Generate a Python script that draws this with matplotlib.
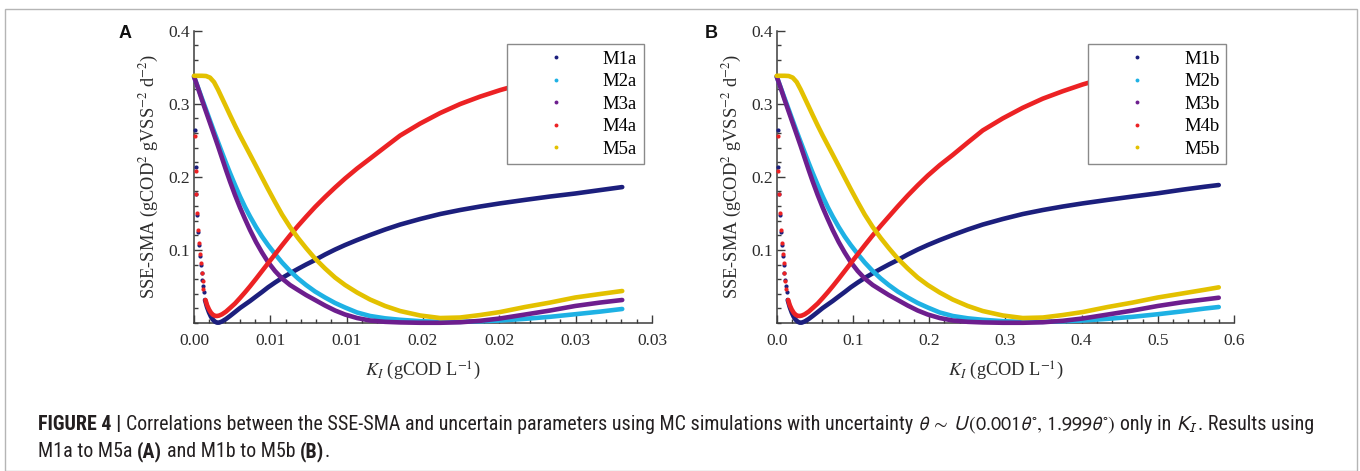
import matplotlib
matplotlib.use("Agg")
import matplotlib.pyplot as plt
from matplotlib.lines import Line2D
from matplotlib.patches import Rectangle
from matplotlib.ticker import MultipleLocator, FixedLocator, FixedFormatter
from matplotlib.transforms import IdentityTransform
from matplotlib import font_manager as fm

# ---------------- data ----------------
series_A = ["M1a", "M2a", "M3a", "M4a", "M5a"]
series_B = ["M1b", "M2b", "M3b", "M4b", "M5b"]
colors = ["#1c1f7d", "#1eb1e4", "#6d1e8e", "#ec2224", "#e3c100"]

xticks_A = [0.0, 0.005, 0.01, 0.015, 0.02, 0.025, 0.03]
xticklabels_A = ["0.00", "0.01", "0.01", "0.02", "0.02", "0.03", "0.03"]
xticks_B = [0.0, 0.1, 0.2, 0.3, 0.4, 0.5, 0.6]
xticklabels_B = ["0.0", "0.1", "0.2", "0.3", "0.4", "0.5", "0.6"]
yticks = [0.1, 0.2, 0.3, 0.4]
yticklabels = ["0.1", "0.2", "0.3", "0.4"]

# ---------------- Panel A ----------------
# sparse points close to K_I = 0 (M1a and M4a)
KI_A_M1_dots = [0.00006, 0.0001, 0.00016, 0.00022, 0.00028, 0.00034, 0.0004, 0.00045, 0.0005, 0.00055, 0.0006, 0.00066]
SSE_A_M1_dots = [0.264, 0.214, 0.176, 0.148, 0.125, 0.107, 0.092, 0.080, 0.069, 0.059, 0.050, 0.042]
KI_A_M4_dots = [0.00006, 0.0001, 0.00016, 0.00022, 0.00028, 0.00034, 0.0004, 0.00045, 0.0005, 0.00056, 0.00062]
SSE_A_M4_dots = [0.256, 0.208, 0.177, 0.150, 0.127, 0.109, 0.095, 0.082, 0.069, 0.057, 0.046]

# K_I positions at which M2a, M3a, M5a were read
KI_A = [0.0, 0.000262, 0.000524, 0.000786, 0.001049, 0.001311, 0.001573, 0.001835, 0.002097, 0.002359,
        0.002687, 0.003014, 0.003342, 0.00367, 0.004063, 0.004456, 0.004849, 0.005308, 0.005767, 0.006291,
        0.006815, 0.007339, 0.007929, 0.008584, 0.00924, 0.009895, 0.010682, 0.011534, 0.012516, 0.0135,
        0.01481, 0.01612, 0.01743, 0.01874, 0.02005, 0.02169, 0.02333, 0.02497, 0.02661, 0.02805]

SSE_A_M2 = [0.3372, 0.3222, 0.3071, 0.2921, 0.2770, 0.2620, 0.2476, 0.2332, 0.2189, 0.2052,
            0.1888, 0.1731, 0.1587, 0.1457, 0.1313, 0.1183, 0.1067, 0.0944, 0.0828, 0.0711,
            0.0609, 0.0520, 0.0431, 0.0349, 0.0274, 0.0212, 0.0144, 0.0096, 0.0064, 0.0044,
            0.0025, 0.0016, 0.0016, 0.0023, 0.0034, 0.0057, 0.0085, 0.0120, 0.0156, 0.0192]

SSE_A_M3 = [0.3372, 0.3215, 0.3051, 0.2893, 0.2736, 0.2579, 0.2421, 0.2257, 0.2093, 0.1936,
            0.1751, 0.1580, 0.1423, 0.1272, 0.1108, 0.0964, 0.0834, 0.0711, 0.0609, 0.0520,
            0.0451, 0.0383, 0.0315, 0.0239, 0.0171, 0.0116, 0.0068, 0.0034, 0.0016, 0.0008,
            0.0003, 0.0003, 0.0010, 0.0030, 0.0062, 0.0116, 0.0171, 0.0233, 0.0280, 0.0315]

SSE_A_M5 = [0.3383, 0.3383, 0.3383, 0.3380, 0.3358, 0.3297, 0.3194, 0.3078, 0.2962, 0.2845,
            0.2702, 0.2565, 0.2435, 0.2305, 0.2148, 0.1990, 0.1833, 0.1655, 0.1484, 0.1313,
            0.1163, 0.1026, 0.0882, 0.0746, 0.0622, 0.0520, 0.0417, 0.0321, 0.0233, 0.0164,
            0.0103, 0.0068, 0.0075, 0.0109, 0.0150, 0.0219, 0.0280, 0.0349, 0.0397, 0.0438]

KI_A_M1 = [0.000721, 0.000852, 0.000983, 0.001114, 0.001245, 0.001376, 0.001507, 0.001638, 0.001835, 0.002097,
           0.002359, 0.002687, 0.003014, 0.003342, 0.00367, 0.004063, 0.004456, 0.004849, 0.005308, 0.005767,
           0.006291, 0.006815, 0.007339, 0.007929, 0.008584, 0.00924, 0.009895, 0.010682, 0.011534, 0.012516,
           0.0135, 0.01481, 0.01612, 0.01743, 0.01874, 0.02005, 0.02169, 0.02333, 0.02497, 0.02661, 0.02805]
SSE_A_M1 = [0.0315, 0.0219, 0.0144, 0.0085, 0.0044, 0.0018, 0.0005, 0.0005, 0.0021, 0.0055,
            0.0096, 0.0150, 0.0205, 0.0253, 0.0301, 0.0363, 0.0424, 0.0488, 0.0554, 0.0616,
            0.0680, 0.0741, 0.0800, 0.0862, 0.0937, 0.1005, 0.1067, 0.1135, 0.1204, 0.1279,
            0.1347, 0.1423, 0.1491, 0.1546, 0.1594, 0.1637, 0.1685, 0.1731, 0.1772, 0.1819, 0.1860]

KI_A_M4 = [0.000754, 0.000852, 0.000983, 0.001114, 0.001245, 0.001376, 0.001507, 0.001638, 0.001835, 0.002097,
           0.002359, 0.002687, 0.003014, 0.003342, 0.00367, 0.004063, 0.004456, 0.004849, 0.005308, 0.005767,
           0.006291, 0.006815, 0.007339, 0.007929, 0.008584, 0.00924, 0.009895, 0.010682, 0.011534, 0.012516,
           0.0135, 0.01481, 0.01612, 0.01743, 0.01874, 0.02005, 0.02169, 0.02333, 0.02497, 0.02661, 0.02805]
SSE_A_M4 = [0.0315, 0.0246, 0.0185, 0.0140, 0.0112, 0.0098, 0.0096, 0.0101, 0.0119, 0.0156,
            0.0205, 0.0267, 0.0342, 0.0420, 0.0502, 0.0605, 0.0711, 0.0817, 0.0940, 0.1063,
            0.1200, 0.1330, 0.1453, 0.1587, 0.1724, 0.1854, 0.1977, 0.2114, 0.2250, 0.2408,
            0.2565, 0.2729, 0.2873, 0.2996, 0.3098, 0.3187, 0.3283, 0.3365, 0.3440, 0.3509, 0.3564]

# ---------------- Panel B ----------------
KI_B_M1_dots = [0.0012, 0.002, 0.0032, 0.0044, 0.0056, 0.0068, 0.008, 0.009, 0.010, 0.011, 0.012, 0.0132]
SSE_B_M1_dots = [0.264, 0.214, 0.176, 0.148, 0.125, 0.107, 0.092, 0.080, 0.069, 0.059, 0.050, 0.042]
KI_B_M4_dots = [0.0012, 0.002, 0.0032, 0.0044, 0.0056, 0.0068, 0.008, 0.009, 0.010, 0.0112, 0.0124]
SSE_B_M4_dots = [0.256, 0.208, 0.177, 0.150, 0.127, 0.109, 0.095, 0.082, 0.069, 0.057, 0.046]

KI_B = [0.0, 0.00525, 0.0105, 0.01575, 0.0210, 0.02625, 0.0315, 0.03675, 0.0420, 0.04724,
        0.05381, 0.06037, 0.06693, 0.07349, 0.08136, 0.08924, 0.09711, 0.1063, 0.1155, 0.1260,
        0.1365, 0.1470, 0.1588, 0.1719, 0.1850, 0.1982, 0.2139, 0.2310, 0.2507, 0.2703,
        0.2966, 0.3228, 0.3491, 0.3753, 0.4016, 0.4344, 0.4672, 0.5000, 0.5328, 0.5617, 0.58]

SSE_B_M2 = [0.3372, 0.3222, 0.3071, 0.2921, 0.2770, 0.2620, 0.2476, 0.2332, 0.2189, 0.2052,
            0.1888, 0.1731, 0.1587, 0.1457, 0.1313, 0.1183, 0.1067, 0.0944, 0.0828, 0.0711,
            0.0609, 0.0520, 0.0431, 0.0349, 0.0274, 0.0212, 0.0144, 0.0096, 0.0064, 0.0044,
            0.0025, 0.0016, 0.0016, 0.0023, 0.0034, 0.0057, 0.0085, 0.0120, 0.0160, 0.0198, 0.0219]

SSE_B_M3 = [0.3372, 0.3215, 0.3051, 0.2893, 0.2736, 0.2579, 0.2421, 0.2257, 0.2093, 0.1936,
            0.1751, 0.1580, 0.1423, 0.1272, 0.1108, 0.0964, 0.0834, 0.0711, 0.0609, 0.0520,
            0.0451, 0.0383, 0.0315, 0.0239, 0.0171, 0.0116, 0.0068, 0.0034, 0.0016, 0.0008,
            0.0003, 0.0003, 0.0010, 0.0030, 0.0062, 0.0116, 0.0171, 0.0233, 0.0285, 0.0322, 0.0346]

SSE_B_M5 = [0.3383, 0.3383, 0.3383, 0.3380, 0.3358, 0.3297, 0.3194, 0.3078, 0.2962, 0.2845,
            0.2702, 0.2565, 0.2435, 0.2305, 0.2148, 0.1990, 0.1833, 0.1655, 0.1484, 0.1313,
            0.1163, 0.1026, 0.0882, 0.0746, 0.0622, 0.0520, 0.0417, 0.0321, 0.0233, 0.0164,
            0.0103, 0.0068, 0.0075, 0.0109, 0.0150, 0.0219, 0.0280, 0.0349, 0.0405, 0.0455, 0.0488]

KI_B_M1 = [0.01444, 0.01706, 0.01969, 0.02231, 0.02493, 0.02756, 0.03018, 0.03281, 0.03675, 0.0420,
           0.04724, 0.05381, 0.06037, 0.06693, 0.07349, 0.08136, 0.08924, 0.09711, 0.1063, 0.1155,
           0.1260, 0.1365, 0.1470, 0.1588, 0.1719, 0.1850, 0.1982, 0.2139, 0.2310, 0.2507,
           0.2703, 0.2966, 0.3228, 0.3491, 0.3753, 0.4016, 0.4344, 0.4672, 0.5000, 0.5328, 0.5617, 0.58]
SSE_B_M1 = [0.0315, 0.0219, 0.0144, 0.0085, 0.0044, 0.0018, 0.0005, 0.0005, 0.0021, 0.0055,
            0.0096, 0.0150, 0.0205, 0.0253, 0.0301, 0.0363, 0.0424, 0.0488, 0.0554, 0.0616,
            0.0680, 0.0741, 0.0800, 0.0862, 0.0937, 0.1005, 0.1067, 0.1135, 0.1204, 0.1279,
            0.1347, 0.1423, 0.1491, 0.1546, 0.1594, 0.1637, 0.1685, 0.1731, 0.1775, 0.1825, 0.1865, 0.1888]

KI_B_M4 = [0.01509, 0.01706, 0.01969, 0.02231, 0.02493, 0.02756, 0.03018, 0.03281, 0.03675, 0.0420,
           0.04724, 0.05381, 0.06037, 0.06693, 0.07349, 0.08136, 0.08924, 0.09711, 0.1063, 0.1155,
           0.1260, 0.1365, 0.1470, 0.1588, 0.1719, 0.1850, 0.1982, 0.2139, 0.2310, 0.2507,
           0.2703, 0.2966, 0.3228, 0.3491, 0.3753, 0.4016, 0.4344, 0.4672, 0.5000, 0.5328, 0.5617, 0.58]
SSE_B_M4 = [0.0315, 0.0246, 0.0185, 0.0140, 0.0112, 0.0098, 0.0096, 0.0101, 0.0119, 0.0156,
            0.0205, 0.0267, 0.0342, 0.0420, 0.0502, 0.0605, 0.0711, 0.0817, 0.0940, 0.1063,
            0.1200, 0.1330, 0.1455, 0.1595, 0.1744, 0.1884, 0.2017, 0.2160, 0.2300, 0.2470,
            0.2635, 0.2800, 0.2945, 0.3070, 0.3172, 0.3265, 0.3363, 0.3445, 0.3520, 0.3585, 0.3640, 0.3670]

# ---------------- styling ----------------
plt.rcParams["font.family"] = ["Liberation Serif", "DejaVu Serif"]
plt.rcParams["mathtext.fontset"] = "stix"

W, H = 1360, 471
fig = plt.figure(figsize=(W / 100, H / 100), dpi=100)
fig.patch.set_facecolor("white")

# outer frame of the figure
fig.patches.append(Rectangle((4.5 / W, 0.5 / H), 1352 / W, 462 / H, transform=fig.transFigure,
                             fill=False, edgecolor="#b5b5b5", linewidth=1.0))

axis_color = "#3c3c3c"
LW = 3.3


def draw_panel(rect, lines, dots, names, xlim, xt, xtl, xminor, legend_anchor, letter, letter_x):
    ax = fig.add_axes(rect)
    for (kx, ky), c in zip(lines, colors):
        ax.plot(kx, ky, color=c, lw=LW, solid_capstyle="round", solid_joinstyle="round",
                clip_on=False, zorder=3)
    for (kx, ky), c in dots:
        ax.plot(kx, ky, "o", color=c, ms=3.0, mew=0, clip_on=False, zorder=3)
    ax.set_xlim(*xlim)
    ax.set_ylim(0, 0.4)
    for s in ("top", "right"):
        ax.spines[s].set_visible(False)
    for s in ("left", "bottom"):
        ax.spines[s].set_color(axis_color)
        ax.spines[s].set_linewidth(1.1)
    ax.xaxis.set_major_locator(FixedLocator(xt))
    ax.xaxis.set_major_formatter(FixedFormatter(xtl))
    ax.xaxis.set_minor_locator(MultipleLocator(xminor))
    ax.yaxis.set_major_locator(FixedLocator(yticks))
    ax.yaxis.set_major_formatter(FixedFormatter(yticklabels))
    ax.yaxis.set_minor_locator(MultipleLocator(0.02))
    ax.tick_params(which="both", direction="in", color=axis_color, width=1.0,
                   labelsize=12.5, labelcolor="#2b2b2b")
    ax.tick_params(which="major", length=6)
    ax.tick_params(which="minor", length=3)
    ax.tick_params(axis="x", which="major", pad=7)
    ax.tick_params(axis="y", which="major", pad=3)
    ax.set_ylabel(r"SSE-SMA (gCOD$^{2}$ gVSS$^{-2}$ d$^{-2}$)", fontsize=13.2, color="#2b2b2b", labelpad=5)
    ax.set_xlabel(r"$K_I$ (gCOD L$^{-1}$)", fontsize=13.2, color="#2b2b2b", labelpad=8)

    handles = [Line2D([], [], marker="o", ls="none", ms=2.8, mew=0, color=c) for c in colors]
    leg = ax.legend(handles, names, loc="upper left", bbox_to_anchor=legend_anchor,
                    borderaxespad=0, fontsize=13.4, frameon=True, fancybox=False,
                    edgecolor="#8a8a8a", framealpha=1, borderpad=0.35, labelspacing=0.29,
                    handlelength=4.57, handletextpad=0.22, numpoints=1)
    leg.get_frame().set_linewidth(1.0)

    fig.text(letter_x / W, 1 - 38 / H, letter, fontsize=13, fontweight="bold",
             family=["Liberation Sans", "DejaVu Sans"], ha="center", va="baseline", color="#111111")
    return ax


axA = draw_panel([194 / W, 1 - 323 / H, (652 - 194) / W, (323 - 30.7) / H],
                 [(KI_A_M1, SSE_A_M1), (KI_A, SSE_A_M2), (KI_A, SSE_A_M3),
                  (KI_A_M4, SSE_A_M4), (KI_A, SSE_A_M5)],
                 [((KI_A_M1_dots, SSE_A_M1_dots), colors[0]), ((KI_A_M4_dots, SSE_A_M4_dots), colors[3])],
                 series_A, (0, 0.03), xticks_A, xticklabels_A, 0.001, (0.684, 0.9535), "A", 125.5)

axB = draw_panel([776.7 / W, 1 - 323 / H, (1234 - 776.7) / W, (323 - 30.7) / H],
                 [(KI_B_M1, SSE_B_M1), (KI_B, SSE_B_M2), (KI_B, SSE_B_M3),
                  (KI_B_M4, SSE_B_M4), (KI_B, SSE_B_M5)],
                 [((KI_B_M1_dots, SSE_B_M1_dots), colors[0]), ((KI_B_M4_dots, SSE_B_M4_dots), colors[3])],
                 series_B, (0, 0.6), xticks_B, xticklabels_B, 0.02, (0.6814, 0.9535), "B", 711.5)

# ---------------- caption ----------------
def has_font(name):
    try:
        fm.findfont(fm.FontProperties(family=name), fallback_to_default=False)
        return True
    except Exception:
        return False

cap_family = "Liberation Sans"
narrow = False
for cand in ("Liberation Sans Narrow", "Roboto Condensed", "Open Sans Condensed"):
    if has_font(cand):
        cap_family = cand
        narrow = True
        break

cap_color = "#231f20"
renderer = fig.canvas.get_renderer()

line1 = [("FIGURE 4 |", "bold", True),
         ("Correlations between the SSE-SMA and uncertain parameters using MC simulations with uncertainty", "normal", True),
         (r"$\theta\, \sim\, U\,(0.001\theta^{\circ},\, 1.999\theta^{\circ})$", "normal", True),
         ("only in", "normal", True),
         (r"$K_I$", "normal", False),
         (". Results using", "normal", False)]
line2 = [("M1a to M5a", "normal", True),
         ("(A)", "bold", True),
         ("and M1b to M5b", "normal", True),
         ("(B)", "bold", False),
         (".", "normal", False)]


def text_width(s, size, weight):
    t = fig.text(0, 0, s, fontsize=size, fontweight=weight, family=cap_family,
                 math_fontfamily="stixsans", transform=IdentityTransform())
    w = t.get_window_extent(renderer).width
    t.remove()
    return w


def space_width(size, weight):
    return text_width("a a", size, weight) - text_width("aa", size, weight)


def line_width(pieces, size):
    total = 0
    for s, wgt, sp in pieces:
        total += text_width(s, size, wgt)
        if sp:
            total += space_width(size, wgt)
    return total


base_size = 10.5
w1 = line_width(line1, base_size)
cap_size = base_size * (1284.0 / w1)
cap_size = max(9.0, min(cap_size, 15.0 if narrow else 12.3))


def draw_line(pieces, x0, y_img, size):
    x = x0
    for s, wgt, sp in pieces:
        t = fig.text(x, H - y_img, s, fontsize=size, fontweight=wgt, family=cap_family,
                     math_fontfamily="stixsans", color=cap_color, ha="left", va="baseline",
                     transform=IdentityTransform())
        x += t.get_window_extent(renderer).width
        if sp:
            x += space_width(size, wgt)


draw_line(line1, 38, 430, cap_size)
draw_line(line2, 38, 457, cap_size)

fig.savefig("out.png", dpi=100, facecolor="white")
